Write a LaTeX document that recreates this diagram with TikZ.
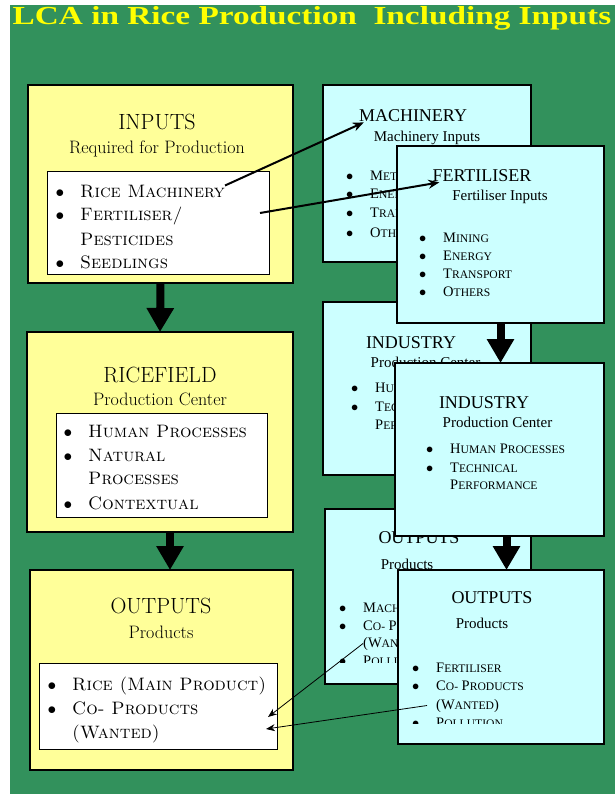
\documentclass[tikz,border=0pt]{standalone}
\usepackage{fontspec}
\usepackage{graphicx}
\usetikzlibrary{arrows.meta}
\newfontfamily\titlefont[FakeStretch=1.28]{Liberation Serif}
\newfontfamily\timesfont{Liberation Serif}
\definecolor{slidegreen}{RGB}{50,145,92}
\definecolor{boxyellow}{RGB}{255,255,153}
\definecolor{boxcyan}{RGB}{204,255,255}
\definecolor{titleyellow}{RGB}{255,255,0}
\newcommand{\lbul}{\llap{$\bullet$\hspace{16pt}}}
\newcommand{\rbul}{\llap{$\bullet$\hspace{17pt}}}
\newcommand{\fsc}[2]{#1\scalebox{0.8}{#2}}
\tikzset{
  ybox/.style={draw, line width=1.2pt, fill=boxyellow, inner sep=0pt, outer sep=0pt},
  wbox/.style={draw, line width=1pt, fill=white, inner sep=0pt, outer sep=0pt},
  cbox/.style={draw, line width=1.2pt, fill=boxcyan, inner sep=0pt, outer sep=0pt},
  titletext/.style={anchor=base, inner sep=0pt, text=titleyellow,
    font=\titlefont\bfseries\fontsize{26}{28}\selectfont},
  lhead/.style={anchor=base, inner sep=0pt, font=\fontsize{22}{24}\selectfont},
  lsub/.style={anchor=base, inner sep=0pt, font=\fontsize{18}{20}\selectfont},
  litem/.style={anchor=base west, inner sep=0pt, font=\fontsize{18}{20}\selectfont},
  rhead/.style={anchor=base, inner sep=0pt, font=\timesfont\fontsize{18}{20}\selectfont},
  rsub/.style={anchor=base, inner sep=0pt, font=\timesfont\fontsize{15}{17}\selectfont},
  ritem/.style={anchor=base west, inner sep=0pt, font=\timesfont\fontsize{14.5}{16}\selectfont},
  bigarrow/.style={line width=8pt, -{Triangle[width=26pt,length=24pt]}},
  linkarrow/.style={line width=2pt, -{Stealth[length=11pt,width=9pt]}},
  thinarrow/.style={line width=0.8pt, -{Stealth[length=9pt,width=7pt]}}
}
\begin{document}
\begin{tikzpicture}[x=1pt, y=-1pt]
    % Фон
    \useasboundingbox (0,0) rectangle (615,794);
    \fill[white] (0,0) rectangle (615,794);
    \fill[slidegreen] (10,5) rectangle (615,794);

    % Заголовок
    \node[titletext] (title) at (312,25) {LCA in Rice Production\ \ Including Inputs};

    % Входы (жёлтый блок)
    \node[ybox, minimum width=265pt, minimum height=198pt] (inputs) at (160.5,184) {};
    \node[wbox, minimum width=222pt, minimum height=102pt] (inList) at (158,223) {};
    \node[lhead] (inTitle) at (157,130) {INPUTS};
    \node[lsub] (inSub) at (157,154) {Required for Production};
    \node[litem] (inItemA) at (80,198) {\lbul\textsc{Rice Machinery}};
    \node[litem] (inItemB) at (80,221) {\lbul\textsc{Fertiliser/}};
    \node[litem] (inItemC) at (80,245) {\textsc{Pesticides}};
    \node[litem] (inItemD) at (80,268) {\lbul\textsc{Seedlings}};

    % Рисовое поле
    \node[ybox, minimum width=266pt, minimum height=200pt] (ricefield) at (160,432) {};
    \node[wbox, minimum width=211pt, minimum height=104pt] (rfList) at (161.5,465) {};
    \node[lhead] (rfTitle) at (160,382) {RICEFIELD};
    \node[lsub] (rfSub) at (160,405) {Production Center};
    \node[litem] (rfItemA) at (88,437) {\lbul\textsc{Human Processes}};
    \node[litem] (rfItemB) at (88,461) {\lbul\textsc{Natural}};
    \node[litem] (rfItemC) at (88,484) {\textsc{Processes}};
    \node[litem] (rfItemD) at (88,509) {\lbul\textsc{Contextual}};

    % Выходы
    \node[ybox, minimum width=263pt, minimum height=200pt] (outputs) at (161.5,670) {};
    \node[wbox, minimum width=238pt, minimum height=86pt] (outList) at (158,706) {};
    \node[lhead] (outTitle) at (161,613) {OUTPUTS};
    \node[lsub] (outSub) at (161,638) {Products};
    \node[litem] (outItemA) at (72,690) {\lbul\textsc{Rice (Main Product)}};
    \node[litem] (outItemB) at (72,714) {\lbul\textsc{Co- Products}};
    \node[litem] (outItemC) at (72,738) {\textsc{(Wanted)}};

    % Машины (задний блок)
    \node[cbox, minimum width=208pt, minimum height=177pt] (mach) at (427,173.5) {};
    \node[rhead] (machTitle) at (413,122) {MACHINERY};
    \node[rsub] (machSub) at (427,142) {Machinery Inputs};
    \node[ritem] (machItemA) at (370,181) {\rbul\fsc{M}{ETALS}};
    \node[ritem] (machItemB) at (370,199) {\rbul\fsc{E}{NERGY}};
    \node[ritem] (machItemC) at (370,218) {\rbul\fsc{T}{RANSPORT}};
    \node[ritem] (machItemD) at (370,237) {\rbul\fsc{O}{THERS}};

    % Промышленность (задний блок)
    \node[cbox, minimum width=208pt, minimum height=173pt] (indBack) at (427,388.5) {};
    \node[rhead] (indBackTitle) at (411,348) {INDUSTRY};
    \node[rsub] (indBackSub) at (425.5,367) {Production Center};
    \node[ritem] (indBackA) at (375,392) {\rbul\fsc{H}{UMAN} \fsc{P}{ROCESSES}};
    \node[ritem] (indBackB) at (375,411) {\rbul\fsc{T}{ECHNICAL}};
    \node[ritem] (indBackC) at (375,429) {\fsc{P}{ERFORMANCE}};

    % Выходы (задний блок)
    \node[cbox, minimum width=206pt, minimum height=175pt] (outBack) at (428,596.5) {};
    \node[rhead] (outBackTitle) at (419,543) {OUTPUTS};
    \node[rsub] (outBackSub) at (407,569) {Products};
    \begin{scope}
        \clip (326,510) rectangle (530,662);
        \node[ritem] (outBackA) at (363,612) {\rbul\fsc{M}{ACHINERY}};
        \node[ritem] (outBackB) at (363,630) {\rbul\fsc{C}{O-} \fsc{P}{RODUCTS}};
        \node[ritem] (outBackC) at (363,647) {(\fsc{W}{ANTED})};
        \node[ritem] (outBackD) at (363,665) {\rbul\fsc{P}{OLLUTION}};
    \end{scope}

    % Удобрения (передний блок)
    \node[cbox, minimum width=207pt, minimum height=177pt] (fert) at (500.5,234.5) {};
    \node[rhead] (fertTitle) at (482,182) {FERTILISER};
    \node[rsub] (fertSub) at (500,201) {Fertiliser Inputs};
    \node[ritem] (fertItemA) at (443,242) {\rbul\fsc{M}{INING}};
    \node[ritem] (fertItemB) at (443,260) {\rbul\fsc{E}{NERGY}};
    \node[ritem] (fertItemC) at (443,278) {\rbul\fsc{T}{RANSPORT}};
    \node[ritem] (fertItemD) at (443,296) {\rbul\fsc{O}{THERS}};

    % Промышленность (передний блок)
    \node[cbox, minimum width=209pt, minimum height=173pt] (indFront) at (499.5,449.5) {};
    \node[rhead] (indFrontTitle) at (484,408) {INDUSTRY};
    \node[rsub] (indFrontSub) at (497.5,427) {Production Center};
    \node[ritem] (indFrontA) at (450,453) {\rbul\fsc{H}{UMAN} \fsc{P}{ROCESSES}};
    \node[ritem] (indFrontB) at (450,472) {\rbul\fsc{T}{ECHNICAL}};
    \node[ritem] (indFrontC) at (450,489) {\fsc{P}{ERFORMANCE}};

    % Выходы (передний блок)
    \node[cbox, minimum width=206pt, minimum height=174pt] (outFront) at (501,657) {};
    \node[rhead] (outFrontTitle) at (492,603) {OUTPUTS};
    \node[rsub] (outFrontSub) at (482,628) {Products};
    \begin{scope}
        \clip (399,571) rectangle (603,723);
        \node[ritem] (outFrontA) at (436,672) {\rbul\fsc{F}{ERTILISER}};
        \node[ritem] (outFrontB) at (436,690) {\rbul\fsc{C}{O-} \fsc{P}{RODUCTS}};
        \node[ritem] (outFrontC) at (436,709) {(\fsc{W}{ANTED})};
        \node[ritem] (outFrontD) at (436,727) {\rbul\fsc{P}{OLLUTION}};
    \end{scope}

    % Толстые стрелки
    \draw[bigarrow] (inputs.south) -- (ricefield.north);
    \draw[bigarrow] ([xshift=10pt]ricefield.south) -- ([xshift=8.5pt]outputs.north);
    \draw[bigarrow] (fert.south) -- (fert.south |- indFront.north);
    \draw[bigarrow] ([xshift=7pt]indFront.south) -- ([xshift=7pt]indFront.south |- outFront.north);

    % Связи
    \coordinate (fertStart) at (260,213);
    \coordinate (coProdEndA) at (268,717);
    \coordinate (coProdEndB) at (266,729);
    \draw[linkarrow] (inItemA.north east) -- ([xshift=5pt]machTitle.south west);
    \draw[linkarrow] (fertStart) -- ([xshift=7pt]fertTitle.south west);
    \draw[thinarrow] (outBackC.west) -- (coProdEndA);
    \draw[thinarrow] ([xshift=-9pt]outFrontC.west) -- (coProdEndB);
\end{tikzpicture}
\end{document}
